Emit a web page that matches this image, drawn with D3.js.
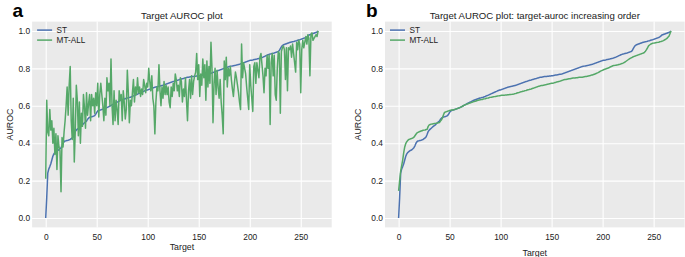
<!DOCTYPE html>
<html>
<head>
<meta charset="utf-8">
<script src="https://cdn.jsdelivr.net/npm/d3@7"></script>
<style>
  body { margin: 0; background: #fff; }
  svg { font-family: "Liberation Sans", Arial, sans-serif; }
</style>
</head>
<body>
<svg id="chart" width="685" height="257"></svg>
<script>
// ST auroc per target, targets sorted by ST auroc (same curve in both panels)
const stAuroc = [
  0.000, 0.110, 0.240, 0.262, 0.275, 0.290, 0.310, 0.330, 0.343, 0.350,
  0.355, 0.360, 0.362, 0.365, 0.370, 0.376, 0.386, 0.400, 0.408, 0.412,
  0.413, 0.415, 0.416, 0.418, 0.420, 0.424, 0.428, 0.434, 0.448, 0.463,
  0.470, 0.475, 0.480, 0.485, 0.490, 0.494, 0.498, 0.504, 0.509, 0.514,
  0.518, 0.528, 0.534, 0.538, 0.540, 0.541, 0.543, 0.545, 0.548, 0.555,
  0.565, 0.572, 0.575, 0.577, 0.578, 0.580, 0.582, 0.584, 0.586, 0.588,
  0.590, 0.593, 0.596, 0.599, 0.602, 0.605, 0.608, 0.611, 0.614, 0.617,
  0.620, 0.622, 0.625, 0.628, 0.630, 0.632, 0.634, 0.636, 0.638, 0.640,
  0.642, 0.643, 0.645, 0.646, 0.648, 0.650, 0.653, 0.655, 0.657, 0.660,
  0.662, 0.665, 0.667, 0.670, 0.672, 0.675, 0.677, 0.680, 0.682, 0.684,
  0.685, 0.687, 0.689, 0.691, 0.693, 0.695, 0.697, 0.699, 0.701, 0.702,
  0.703, 0.704, 0.706, 0.707, 0.708, 0.710, 0.712, 0.714, 0.716, 0.718,
  0.720, 0.722, 0.724, 0.726, 0.728, 0.730, 0.731, 0.733, 0.735, 0.737,
  0.738, 0.740, 0.741, 0.743, 0.745, 0.746, 0.748, 0.749, 0.751, 0.752,
  0.753, 0.754, 0.755, 0.756, 0.756, 0.757, 0.758, 0.758, 0.759, 0.759,
  0.760, 0.761, 0.762, 0.763, 0.764, 0.765, 0.766, 0.767, 0.768, 0.769,
  0.770, 0.772, 0.774, 0.776, 0.778, 0.780, 0.782, 0.784, 0.786, 0.788,
  0.790, 0.792, 0.794, 0.796, 0.798, 0.800, 0.802, 0.804, 0.806, 0.808,
  0.810, 0.811, 0.812, 0.813, 0.814, 0.815, 0.816, 0.818, 0.819, 0.821,
  0.822, 0.824, 0.826, 0.828, 0.830, 0.832, 0.834, 0.836, 0.838, 0.840,
  0.842, 0.843, 0.844, 0.845, 0.847, 0.848, 0.849, 0.850, 0.852, 0.853,
  0.854, 0.856, 0.858, 0.860, 0.863, 0.865, 0.868, 0.870, 0.873, 0.875,
  0.877, 0.878, 0.880, 0.881, 0.882, 0.884, 0.886, 0.888, 0.890, 0.895,
  0.905, 0.915, 0.922, 0.926, 0.928, 0.930, 0.932, 0.934, 0.936, 0.938,
  0.940, 0.941, 0.942, 0.943, 0.945, 0.947, 0.948, 0.950, 0.952, 0.953,
  0.955, 0.957, 0.959, 0.961, 0.963, 0.965, 0.968, 0.972, 0.978, 0.980,
  0.982, 0.984, 0.986, 0.988, 0.990, 0.992, 0.994, 1.000
];

// MT-ALL auroc in the same target order as ST (panel a)
const mtAurocByTarget = [
  0.21, 0.63, 0.46, 0.44, 0.58, 0.47, 0.52, 0.40, 0.48, 0.34,
  0.45, 0.26, 0.44, 0.38, 0.36, 0.14, 0.43, 0.38, 0.46, 0.52,
  0.60, 0.70, 0.55, 0.71, 0.81, 0.52, 0.42, 0.64, 0.30, 0.47,
  0.71, 0.63, 0.44, 0.62, 0.40, 0.56, 0.49, 0.66, 0.59, 0.48,
  0.67, 0.55, 0.61, 0.66, 0.52, 0.66, 0.60, 0.64, 0.56, 0.67,
  0.60, 0.72, 0.54, 0.66, 0.72, 0.66, 0.60, 0.52, 0.64, 0.55,
  0.75, 0.68, 0.72, 0.60, 0.85, 0.60, 0.50, 0.68, 0.52, 0.63,
  0.58, 0.50, 0.68, 0.63, 0.66, 0.52, 0.68, 0.62, 0.53, 0.58,
  0.79, 0.67, 0.51, 0.63, 0.60, 0.67, 0.74, 0.62, 0.70, 0.66,
  0.75, 0.67, 0.70, 0.65, 0.69, 0.66, 0.74, 0.71, 0.67, 0.72,
  0.70, 0.80, 0.73, 0.68, 0.76, 0.64, 0.60, 0.45, 0.62, 0.70,
  0.68, 0.82, 0.68, 0.60, 0.70, 0.64, 0.73, 0.66, 0.71, 0.66,
  0.70, 0.62, 0.59, 0.70, 0.65, 0.72, 0.68, 0.77, 0.74, 0.68,
  0.71, 0.65, 0.75, 0.73, 0.62, 0.69, 0.65, 0.75, 0.63, 0.52,
  0.68, 0.74, 0.64, 0.76, 0.66, 0.73, 0.76, 0.78, 0.88, 0.74,
  0.82, 0.65, 0.77, 0.71, 0.85, 0.75, 0.82, 0.63, 0.84, 0.70,
  0.81, 0.72, 0.94, 0.80, 0.51, 0.72, 0.80, 0.66, 0.79, 0.70,
  0.64, 0.74, 0.62, 0.55, 0.45, 0.84, 0.74, 0.86, 0.70, 0.80,
  0.76, 0.81, 0.74, 0.69, 0.65, 0.72, 0.78, 0.75, 0.71, 0.67,
  0.62, 0.58, 0.93, 0.75, 0.83, 0.80, 0.77, 0.70, 0.64, 0.58,
  0.82, 0.71, 0.64, 0.57, 0.81, 0.83, 0.72, 0.83, 0.79, 0.75,
  0.86, 0.88, 0.82, 0.76, 0.67, 0.80, 0.76, 0.87, 0.80, 0.87,
  0.50, 0.83, 0.88, 0.76, 0.87, 0.66, 0.63, 0.80, 0.89, 0.88,
  0.56, 0.89, 0.91, 0.92, 0.90, 0.74, 0.91, 0.68, 0.91, 0.90,
  0.92, 0.86, 0.93, 0.88, 0.83, 0.78, 0.94, 0.90, 0.95, 0.93,
  0.67, 0.90, 0.95, 0.91, 0.94, 0.97, 0.93, 0.98, 0.96, 0.76,
  0.98, 0.99, 0.95, 0.96, 0.97, 0.98, 0.97, 1.00
];

// MT-ALL auroc sorted on its own (panel b)
const mtAurocSorted = [
  0.145, 0.200, 0.250, 0.280, 0.310, 0.350, 0.380, 0.398, 0.408, 0.415,
  0.420, 0.422, 0.424, 0.426, 0.428, 0.432, 0.440, 0.448, 0.455, 0.458,
  0.461, 0.463, 0.465, 0.467, 0.469, 0.470, 0.471, 0.473, 0.475, 0.490,
  0.498, 0.500, 0.502, 0.503, 0.504, 0.505, 0.506, 0.507, 0.508, 0.509,
  0.510, 0.518, 0.525, 0.535, 0.552, 0.565, 0.567, 0.569, 0.571, 0.573,
  0.575, 0.576, 0.577, 0.578, 0.579, 0.580, 0.582, 0.584, 0.586, 0.588,
  0.590, 0.593, 0.596, 0.599, 0.602, 0.605, 0.607, 0.609, 0.611, 0.613,
  0.615, 0.617, 0.619, 0.621, 0.623, 0.624, 0.626, 0.628, 0.630, 0.631,
  0.632, 0.633, 0.634, 0.636, 0.637, 0.638, 0.640, 0.641, 0.642, 0.644,
  0.645, 0.646, 0.647, 0.648, 0.649, 0.650, 0.651, 0.652, 0.653, 0.654,
  0.655, 0.656, 0.656, 0.657, 0.657, 0.658, 0.658, 0.659, 0.659, 0.660,
  0.660, 0.661, 0.662, 0.663, 0.665, 0.666, 0.668, 0.670, 0.671, 0.673,
  0.675, 0.676, 0.678, 0.679, 0.681, 0.682, 0.684, 0.686, 0.687, 0.689,
  0.690, 0.692, 0.694, 0.696, 0.698, 0.700, 0.702, 0.704, 0.705, 0.707,
  0.708, 0.709, 0.710, 0.711, 0.712, 0.714, 0.715, 0.716, 0.718, 0.719,
  0.720, 0.721, 0.722, 0.724, 0.725, 0.727, 0.728, 0.730, 0.731, 0.733,
  0.735, 0.737, 0.739, 0.740, 0.741, 0.742, 0.743, 0.744, 0.745, 0.746,
  0.747, 0.748, 0.748, 0.749, 0.750, 0.750, 0.751, 0.752, 0.752, 0.753,
  0.753, 0.754, 0.755, 0.756, 0.757, 0.758, 0.759, 0.760, 0.762, 0.764,
  0.765, 0.767, 0.769, 0.771, 0.774, 0.776, 0.779, 0.782, 0.785, 0.788,
  0.790, 0.793, 0.795, 0.797, 0.799, 0.801, 0.803, 0.806, 0.809, 0.811,
  0.814, 0.815, 0.816, 0.817, 0.818, 0.819, 0.821, 0.822, 0.824, 0.826,
  0.828, 0.831, 0.834, 0.838, 0.842, 0.846, 0.850, 0.853, 0.856, 0.859,
  0.862, 0.864, 0.866, 0.868, 0.870, 0.872, 0.874, 0.876, 0.878, 0.880,
  0.882, 0.886, 0.892, 0.900, 0.910, 0.920, 0.925, 0.929, 0.932, 0.934,
  0.935, 0.936, 0.937, 0.938, 0.939, 0.940, 0.942, 0.943, 0.945, 0.947,
  0.950, 0.953, 0.956, 0.960, 0.966, 0.972, 0.985, 1.000
];

const seriesNames = ['ST', 'MT-ALL'];
const xTicks = [0, 50, 100, 150, 200, 250];
const yTicks = [0.0, 0.2, 0.4, 0.6, 0.8, 1.0];

// Style constants, change here to keep both panels uniform
const colors = { 'ST': '#4c72b0', 'MT-ALL': '#55a868' };
const bg = '#eaeaea';
const textColor = '#222';
const plotTop = 21.6;
const plotBottom = 227.4;

const svg = d3.select('#chart');

/**
 * Draws one panel: grey axes box, white grid, both lines, legend and labels
 * @param {*} opts left/right of plot area, the two series, title and letter
 */
const drawPanel = (opts) => {
  const { left, right, st, mt, title, letter, xLabelY, yLabelX } = opts;
  const n = st.length;

  // matplotlib style 5% margins on both axes
  const x = d3.scaleLinear().domain([-(n - 1) * 0.05, (n - 1) * 1.05]).range([left, right]);
  const y = d3.scaleLinear().domain([-0.05, 1.05]).range([plotBottom, plotTop]);

  const g = svg.append('g');

  g.append('rect')
    .attr('x', left)
    .attr('y', plotTop)
    .attr('width', right - left)
    .attr('height', plotBottom - plotTop)
    .style('fill', bg);

  // grid from the axes, ticks hidden
  g.append('g')
    .attr('transform', `translate(0,${plotBottom})`)
    .call(d3.axisBottom(x).tickValues(xTicks).tickSize(-(plotBottom - plotTop)).tickFormat(''))
    .call(a => a.select('.domain').remove())
    .selectAll('line')
      .style('stroke', '#fff')
      .style('stroke-width', 1.1);
  g.append('g')
    .attr('transform', `translate(${left},0)`)
    .call(d3.axisLeft(y).tickValues(yTicks).tickSize(-(right - left)).tickFormat(''))
    .call(a => a.select('.domain').remove())
    .selectAll('line')
      .style('stroke', '#fff')
      .style('stroke-width', 1.1);

  // tick labels
  g.append('g')
    .attr('transform', `translate(0,${plotBottom})`)
    .call(d3.axisBottom(x).tickValues(xTicks).tickSize(0).tickPadding(6.5).tickFormat(d3.format('d')))
    .call(a => a.select('.domain').remove())
    .selectAll('text')
      .style('font-size', '8.4px')
      .style('font-family', '"Liberation Sans", Arial, sans-serif')
      .style('fill', textColor);
  g.append('g')
    .attr('transform', `translate(${left},0)`)
    .call(d3.axisLeft(y).tickValues(yTicks).tickSize(0).tickPadding(2).tickFormat(d3.format('.1f')))
    .call(a => a.select('.domain').remove())
    .selectAll('text')
      .style('font-size', '8.4px')
      .style('font-family', '"Liberation Sans", Arial, sans-serif')
      .style('fill', textColor);

  const line = d3.line()
    .x((d, i) => x(i))
    .y(d => y(d));

  [st, mt].forEach((data, k) => {
    g.append('path')
      .datum(data)
      .attr('d', line)
      .style('fill', 'none')
      .style('stroke', colors[seriesNames[k]])
      .style('stroke-width', 1.5)
      .style('stroke-linejoin', 'round');
  });

  // legend, top left inside the axes
  seriesNames.forEach((name, k) => {
    const ly = plotTop + 8.5 + k * 10;
    g.append('line')
      .attr('x1', left + 5)
      .attr('x2', left + 20)
      .attr('y1', ly)
      .attr('y2', ly)
      .style('stroke', colors[name])
      .style('stroke-width', 1.5);
    g.append('text')
      .attr('x', left + 24.5)
      .attr('y', ly + 3)
      .style('font-size', '8.2px')
      .style('fill', textColor)
      .text(name);
  });

  g.append('text')
    .attr('x', (left + right) / 2)
    .attr('y', 18.8)
    .attr('text-anchor', 'middle')
    .style('font-size', '9.6px')
    .style('fill', textColor)
    .text(title);

  g.append('text')
    .attr('x', (left + right) / 2)
    .attr('y', xLabelY)
    .attr('text-anchor', 'middle')
    .style('font-size', '8.8px')
    .style('fill', textColor)
    .text('Target');

  g.append('text')
    .attr('transform', `translate(${yLabelX},${(plotTop + plotBottom) / 2}) rotate(-90)`)
    .attr('text-anchor', 'middle')
    .style('font-size', '8.8px')
    .style('fill', textColor)
    .text('AUROC');

  svg.append('text')
    .attr('x', letter.x)
    .attr('y', 16.5)
    .style('font-size', '19px')
    .style('font-weight', 'bold')
    .style('fill', '#000')
    .text(letter.t);
};

drawPanel({
  left: 32.1, right: 331.7,
  st: stAuroc, mt: mtAurocByTarget,
  title: 'Target AUROC plot',
  letter: { t: 'a', x: 12.5 },
  xLabelY: 249.5, yLabelX: 13
});

drawPanel({
  left: 385, right: 684.6,
  st: stAuroc, mt: mtAurocSorted,
  title: 'Target AUROC plot: target-auroc increasing order',
  letter: { t: 'b', x: 366 },
  xLabelY: 255.5, yLabelX: 360.5
});
</script>
</body>
</html>
